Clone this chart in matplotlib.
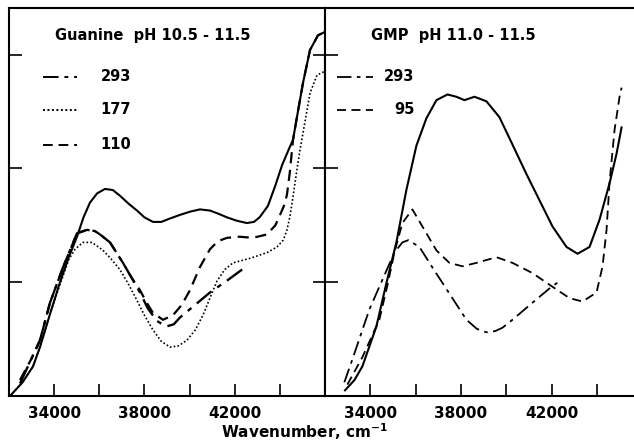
import numpy as np
import matplotlib.pyplot as plt

# ---- left panel: Guanine pH 10.5 - 11.5 ----
gua_ref_x = [32044, 32600, 33063, 33373, 33816, 34259, 34650, 35012, 35300, 35588, 35900,
             36253, 36600, 36917, 37300, 37670, 38000, 38379, 38750, 39132, 39550, 40018,
             40461, 40900, 41300, 41657, 42100, 42543, 42850, 43100, 43470, 43800, 44100,
             44400, 44581, 44800, 45024, 45334, 45688, 46000]
gua_ref_y = [0.0, 0.12, 0.26, 0.43, 0.72, 1.00, 1.22, 1.40, 1.57, 1.70, 1.78,
             1.82, 1.81, 1.76, 1.69, 1.63, 1.57, 1.53, 1.53, 1.56, 1.59, 1.62,
             1.64, 1.63, 1.60, 1.57, 1.54, 1.52, 1.53, 1.57, 1.67, 1.85, 2.03,
             2.17, 2.25, 2.50, 2.75, 3.04, 3.17, 3.20]

gua_293_x = [32487, 33000, 33373, 33816, 34392, 35012, 35455, 35800, 36031, 36474, 37050,
             37400, 37803, 38150, 38556, 38955, 39300, 39575, 40240, 40904, 41701, 42455]
gua_293_y = [0.11, 0.33, 0.49, 0.82, 1.13, 1.43, 1.46, 1.45, 1.42, 1.35, 1.17,
             1.05, 0.91, 0.77, 0.66, 0.61, 0.63, 0.69, 0.80, 0.91, 1.02, 1.13]

gua_177_x = [32044, 32600, 33063, 33373, 33816, 34259, 34650, 34924, 35278, 35677, 36164,
             36500, 36917, 37300, 37670, 38000, 38379, 38750, 39132, 39500, 39885, 40250,
             40594, 40900, 41214, 41550, 41923, 42676, 43429, 43872, 44150, 44315, 44450,
             44581, 44750, 44891, 45024, 45334, 45644, 45954]
gua_177_y = [0.0, 0.12, 0.26, 0.43, 0.72, 0.98, 1.20, 1.29, 1.35, 1.35, 1.28,
             1.21, 1.11, 0.98, 0.84, 0.71, 0.58, 0.48, 0.43, 0.44, 0.49, 0.58,
             0.71, 0.86, 1.01, 1.11, 1.17, 1.21, 1.26, 1.31, 1.37, 1.46, 1.58,
             1.75, 1.98, 2.16, 2.31, 2.66, 2.82, 2.85]

gua_110_x = [32487, 33000, 33373, 33816, 34392, 35012, 35455, 35800, 36031, 36474, 37050,
             37400, 37803, 38100, 38379, 38822, 39265, 39650, 40018, 40450, 40904, 41250,
             41657, 42200, 42809, 43429, 43800, 44005, 44200, 44315, 44450, 44581, 44800,
             45024, 45334, 45688, 46000]
gua_110_y = [0.14, 0.33, 0.49, 0.82, 1.13, 1.43, 1.46, 1.45, 1.42, 1.35, 1.17,
             1.05, 0.93, 0.82, 0.73, 0.67, 0.71, 0.80, 0.93, 1.13, 1.29, 1.36,
             1.39, 1.40, 1.39, 1.42, 1.50, 1.59, 1.68, 1.77, 1.98, 2.25, 2.50,
             2.75, 3.04, 3.17, 3.20]

# ---- right panel: GMP pH 11.0 - 11.5 ----
gmp_ref_x = [32882, 33300, 33647, 34265, 34706, 35148, 35589, 36031, 36472, 36914, 37400,
             37797, 38150, 38592, 39121, 39695, 40269, 40887, 41461, 42035, 42653, 43139,
             43669, 44110, 44552, 44861, 45081]
gmp_ref_y = [0.05, 0.14, 0.26, 0.61, 0.99, 1.35, 1.81, 2.20, 2.44, 2.60, 2.65,
             2.63, 2.60, 2.63, 2.59, 2.45, 2.21, 1.95, 1.72, 1.49, 1.31, 1.25,
             1.31, 1.55, 1.87, 2.13, 2.36]

gmp_293_x = [32853, 33205, 33956, 34618, 35060, 35413, 35678, 36163, 36737, 37488, 38238,
             38700, 39121, 39500, 39828, 40269, 41152, 41991, 42433]
gmp_293_y = [0.12, 0.32, 0.76, 1.06, 1.26, 1.35, 1.37, 1.31, 1.13, 0.90, 0.67,
             0.59, 0.56, 0.57, 0.60, 0.67, 0.82, 0.96, 1.02]

gmp_95_x = [32985, 33647, 34397, 34750, 35060, 35413, 35854, 36296, 36914, 37488, 38062,
            38680, 39563, 40269, 41152, 42035, 42786, 43360, 43978, 44243, 44419, 44552,
            44773, 44993, 45081]
gmp_95_y = [0.10, 0.34, 0.67, 0.97, 1.26, 1.52, 1.64, 1.49, 1.28, 1.17, 1.14,
            1.17, 1.22, 1.17, 1.08, 0.96, 0.86, 0.83, 0.91, 1.14, 1.46, 1.88,
            2.34, 2.63, 2.71]

xticks = [34000, 36000, 38000, 40000, 42000, 44000]
xticklabels = ['34000', '', '38000', '', '42000', '']

DASHDOT = (0, (8, 3, 2, 3))
DASHED = (0, (5, 3))
DOTTED = (0, (1, 1.3))

plt.rcParams['font.family'] = 'DejaVu Sans'
fig = plt.figure(figsize=(6.34, 4.41), dpi=100)
ax1 = fig.add_axes([9 / 634, 45 / 441, 316 / 634, 388 / 441])
ax2 = fig.add_axes([325 / 634, 45 / 441, 309 / 634, 388 / 441])

ax1.plot(gua_ref_x, gua_ref_y, color='black', lw=1.5)
ax1.plot(gua_293_x, gua_293_y, color='black', lw=1.7, ls=DASHDOT)
ax1.plot(gua_177_x, gua_177_y, color='black', lw=1.2, ls=DOTTED)
ax1.plot(gua_110_x, gua_110_y, color='black', lw=1.6, ls=DASHED)
ax1.set_xlim(32000, 46000)

ax2.plot(gmp_ref_x, gmp_ref_y, color='black', lw=1.5)
ax2.plot(gmp_293_x, gmp_293_y, color='black', lw=1.3, ls=DASHDOT)
ax2.plot(gmp_95_x, gmp_95_y, color='black', lw=1.3, ls=DASHED)
ax2.set_xlim(32000, 45630)
ax2.spines['right'].set_visible(False)

for ax in (ax1, ax2):
    ax.set_ylim(0, 3.41)
    ax.set_xticks(xticks)
    ax.set_xticklabels(xticklabels, fontsize=11, fontweight='bold')
    ax.set_yticks([1, 2, 3])
    ax.set_yticklabels([])
    ax.tick_params(direction='in', length=9, width=1.2, pad=7)
    for s in ax.spines.values():
        s.set_linewidth(1.5)
ax1.tick_params(axis='y', right=True)

# panel titles and hand-drawn keys
ax1.text(0.145, 0.93, 'Guanine  pH 10.5 - 11.5', transform=ax1.transAxes,
         fontsize=10.5, fontweight='bold', va='center')
ax2.text(0.15, 0.93, 'GMP  pH 11.0 - 11.5', transform=ax2.transAxes,
         fontsize=10.5, fontweight='bold', va='center')

key1 = [('293', DASHDOT, 0.823), ('177', DOTTED, 0.738), ('110', DASHED, 0.648)]
for lab, ls, yy in key1:
    ax1.plot([0.108, 0.215], [yy, yy], transform=ax1.transAxes, color='black',
             lw=1.4, ls=ls)
    ax1.text(0.29, yy, lab, transform=ax1.transAxes, fontsize=10.5,
             fontweight='bold', va='center')

key2 = [('293', DASHDOT, 0.823), ('95', DASHED, 0.738)]
for lab, ls, yy in key2:
    ax2.plot([0.04, 0.155], [yy, yy], transform=ax2.transAxes, color='black',
             lw=1.3, ls=ls)
    ax2.text(0.29, yy, lab, transform=ax2.transAxes, fontsize=10.5,
             fontweight='bold', va='center', ha='right')

fig.text(305 / 634, 9 / 441, 'Wavenumber, cm$^{\\mathbf{-1}}$', ha='center',
         va='center', fontsize=11, fontweight='bold')

fig.savefig('out.png', dpi=100)
